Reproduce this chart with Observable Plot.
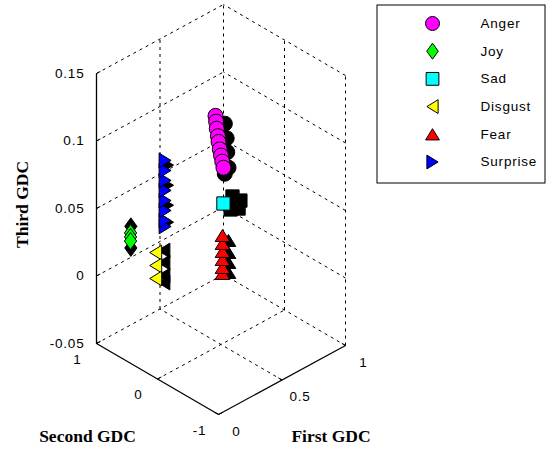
<!DOCTYPE html>
<html><head><meta charset="utf-8">
<script src="https://cdn.jsdelivr.net/npm/d3@7"></script>
<script src="https://cdn.jsdelivr.net/npm/@observablehq/plot@0.6"></script>
<style>
body{margin:0;background:#fff}
#chart{width:547px;height:450px}
</style>
</head><body><div id="chart"></div>
<script>
// ---- data: [First GDC, Second GDC, Third GDC] ----
const classNames = ["Anger", "Joy", "Sad", "Disgust", "Fear", "Surprise"];
const classColors = ["#ff00ff", "#00ff00", "#00ffff", "#ffff00", "#ff0000", "#0000ff"];

const anger = [[0.5,0.09,0.117],[0.5,0.08,0.113],[0.5,0.07,0.108],[0.5,0.05,0.103],[0.5,0.04,0.099],[0.5,0.02,0.094],[0.5,0.0,0.090],[0.5,-0.02,0.086],[0.5,-0.04,0.082]];
const angerTest = [[0.54,0.02,0.111],[0.54,-0.01,0.101],[0.54,-0.02,0.091],[0.54,-0.04,0.080],[0.52,-0.02,0.076]];
const joy = [[0.1,0.65,0.036],[0.1,0.65,0.033],[0.1,0.65,0.030]];
const joyTest = [[0.1,0.645,0.041],[0.1,0.645,0.025]];
const sad = [[0.5,-0.04,0.0555]];
const sadTest = [[0.6,0.02,0.054],[0.6,-0.11,0.0544],[0.6,-0.08,0.0477],[0.6,0.05,0.0436]];
const disgust = [[0.25,0.55,0.0164],[0.25,0.55,0.0068],[0.25,0.55,-0.0028]];
const disgustTest = [[0.3,0.52,0.0162],[0.3,0.52,0.0073],[0.3,0.52,-0.0024],[0.3,0.52,-0.0076]];
const fear = [[0.5,-0.025,0.0033],[0.5,-0.025,0.0077],[0.5,-0.025,0.0136],[0.5,-0.025,0.0196],[0.5,-0.025,0.0255],[0.5,-0.025,0.0314]];
const fearTest = [[0.53,-0.06,0.0034],[0.53,-0.06,0.0108],[0.53,-0.06,0.0182],[0.53,-0.06,0.0271]];
const surprise = [[0.3,0.5,0.0345],[0.3,0.5,0.0389],[0.3,0.5,0.0463],[0.3,0.5,0.0537],[0.3,0.5,0.0612],[0.3,0.5,0.0686],[0.3,0.5,0.076],[0.3,0.5,0.0834]];
const surpriseTest = [[0.3,0.46,0.0387],[0.3,0.46,0.0513],[0.3,0.46,0.0661],[0.3,0.46,0.081]];

const firstTicks = [0, 0.5, 1];
const secondTicks = [-1, 0, 1];
const thirdTicks = [-0.05, 0, 0.05, 0.1, 0.15];
const firstLabels = ["0", "0.5", "1"];
const secondLabels = ["-1", "0", "1"];
const thirdLabels = ["-0.05", "0", "0.05", "0.1", "0.15"];

// ---- 3D view (MATLAB-like oblique view) ----
const view = {ox: 157, oy: 311, fx: 127, fy: -69, sx: -61, sy: -35.5, zy: -1350};
function proj(f, s, z) {
  return {x: view.ox + view.fx * f + view.sx * s, y: view.oy + view.fy * f + view.sy * s + view.zy * z};
}

// ---- marker shapes ----
const R = (size) => Math.sqrt(size / Math.PI);
const symCircle = {draw(c, size) { const r = R(size); c.moveTo(r, 0); c.arc(0, 0, r, 0, 2 * Math.PI); c.closePath(); }};
const symDiamond = {draw(c, size) { const r = R(size); c.moveTo(0, -r); c.lineTo(0.72 * r, 0); c.lineTo(0, r); c.lineTo(-0.72 * r, 0); c.closePath(); }};
const symSquare = {draw(c, size) { const r = R(size) * 0.85; c.moveTo(-r, -r); c.lineTo(r, -r); c.lineTo(r, r); c.lineTo(-r, r); c.closePath(); }};
const symLeft = {draw(c, size) { const r = R(size); c.moveTo(-0.75 * r, 0); c.lineTo(0.75 * r, -0.92 * r); c.lineTo(0.75 * r, 0.92 * r); c.closePath(); }};
const symUp = {draw(c, size) { const r = R(size); c.moveTo(0, -0.75 * r); c.lineTo(0.92 * r, 0.75 * r); c.lineTo(-0.92 * r, 0.75 * r); c.closePath(); }};
const symRight = {draw(c, size) { const r = R(size); c.moveTo(0.75 * r, 0); c.lineTo(-0.75 * r, -0.92 * r); c.lineTo(-0.75 * r, 0.92 * r); c.closePath(); }};
const symbols = [symCircle, symDiamond, symSquare, symLeft, symUp, symRight];
const symbolSizes = [7.5, 8.5, 7.8, 8, 8, 8];
const legendSizes = [7, 8, 7.5, 7.5, 7.5, 7.5];

const sets = [[anger, angerTest], [joy, joyTest], [sad, sadTest], [disgust, disgustTest], [fear, fearTest], [surprise, surpriseTest]];

// ---- build geometry ----
const zMin = thirdTicks[0], zMax = thirdTicks[thirdTicks.length - 1];
const fMin = firstTicks[0], fMax = firstTicks[firstTicks.length - 1];
const sMin = secondTicks[0], sMax = secondTicks[secondTicks.length - 1];
const seg = (a, b) => { const p = proj(...a), q = proj(...b); return {x1: p.x, y1: p.y, x2: q.x, y2: q.y}; };

const grid = [];
for (const f of firstTicks.slice(1)) grid.push(seg([f, sMin, zMin], [f, sMax, zMin]));
for (const s of secondTicks.slice(1)) grid.push(seg([fMin, s, zMin], [fMax, s, zMin]));
for (const f of firstTicks.slice(1)) grid.push(seg([f, sMax, zMin], [f, sMax, zMax]));
for (const z of thirdTicks.slice(1)) grid.push(seg([fMin, sMax, z], [fMax, sMax, z]));
for (const s of secondTicks.slice(0, -1)) grid.push(seg([fMax, s, zMin], [fMax, s, zMax]));
for (const z of thirdTicks.slice(1)) grid.push(seg([fMax, sMin, z], [fMax, sMax, z]));

const axes = [
  seg([fMin, sMax, zMin], [fMin, sMax, zMax]),
  seg([fMin, sMax, zMin], [fMin, sMin, zMin]),
  seg([fMin, sMin, zMin], [fMax, sMin, zMin])
];
const ticks = [];
for (const z of thirdTicks) { ticks.push(seg([fMin, sMax, z], [fMin + 0.03, sMax, z])); }
for (const s of secondTicks) { ticks.push(seg([fMin, s, zMin], [fMin + 0.03, s, zMin])); }
for (const f of firstTicks) { ticks.push(seg([f, sMin, zMin], [f, sMin + 0.06, zMin])); }

const zLab = thirdTicks.map((z, i) => ({...proj(fMin, sMax, z), t: thirdLabels[i]}));
const sLab = secondTicks.map((s, i) => ({...proj(fMin, s, zMin), t: secondLabels[i]}));
const fLab = firstTicks.map((f, i) => ({...proj(f, sMin, zMin), t: firstLabels[i]}));

const pts = [];
sets.forEach(([main, test], k) => {
  for (const p of test) pts.push({...proj(...p), k, fill: "black"});
  for (const p of main) pts.push({...proj(...p), k, fill: classColors[k]});
});

// legend layout
const legend = {x1: 377, x2: 545, y1: 5, y2: 183, mx: 432, tx: 480, top: 23, step: 27.7};
const legRows = classNames.map((name, k) => ({name, k, y: legend.top + k * legend.step}));

const sans = "'Liberation Sans', Arial, sans-serif";
const serif = "'Liberation Serif', 'Times New Roman', serif";

const marks = [
  Plot.link(grid, {x1: "x1", y1: "y1", x2: "x2", y2: "y2", stroke: "black", strokeWidth: 1, strokeDasharray: "3,4"}),
  Plot.link(axes, {x1: "x1", y1: "y1", x2: "x2", y2: "y2", stroke: "black", strokeWidth: 1.3}),
  Plot.link(ticks, {x1: "x1", y1: "y1", x2: "x2", y2: "y2", stroke: "black", strokeWidth: 1}),
  Plot.text(zLab, {x: "x", y: "y", text: "t", dx: -12, textAnchor: "end", fontSize: 13.5, fontFamily: sans}),
  Plot.text(sLab, {x: "x", y: "y", text: "t", dx: -19, dy: 16, fontSize: 13.5, fontFamily: sans}),
  Plot.text(fLab, {x: "x", y: "y", text: "t", dx: 18, dy: 17, fontSize: 13.5, fontFamily: sans}),
  Plot.text([proj(fMin, sMax, (zMin + zMax) / 2)], {x: "x", y: "y", text: ["Third GDC"], dx: -74, dy: -4, rotate: -90, fontSize: 17.5, fontWeight: "bold", fontFamily: serif}),
  Plot.text([proj(fMin, (sMin + sMax) / 2, zMin)], {x: "x", y: "y", text: ["Second GDC"], dx: -70, dy: 57, fontSize: 17.5, fontWeight: "bold", fontFamily: serif}),
  Plot.text([proj((fMin + fMax) / 2, sMin, zMin)], {x: "x", y: "y", text: ["First GDC"], dx: 49, dy: 56, fontSize: 17.5, fontWeight: "bold", fontFamily: serif})
];
for (let k = 0; k < classNames.length; k++) {
  marks.push(Plot.dot(pts.filter(d => d.k === k), {x: "x", y: "y", fill: "fill", stroke: "black", strokeWidth: 1, symbol: symbols[k], r: symbolSizes[k]}));
}
marks.push(
  Plot.rect([legend], {x1: "x1", x2: "x2", y1: "y1", y2: "y2", fill: "white", stroke: "black", strokeWidth: 1})
);
for (const row of legRows) {
  marks.push(Plot.dot([row], {x: () => legend.mx, y: "y", fill: classColors[row.k], stroke: "black", strokeWidth: 1, symbol: symbols[row.k], r: legendSizes[row.k]}));
}
marks.push(Plot.text(legRows, {x: () => legend.tx, y: "y", text: "name", textAnchor: "start", fontSize: 13.5, fontFamily: sans}));

const chart = Plot.plot({
  width: 547, height: 450, margin: 0,
  x: {domain: [0, 547], range: [0, 547], axis: null},
  y: {domain: [0, 450], range: [0, 450], axis: null},
  style: {background: "white", overflow: "visible"},
  marks
});
d3.select(chart).selectAll("g[font-family*='Sans'] text").attr("letter-spacing", "0.8");
document.getElementById("chart").append(chart);
</script>
</body></html>
